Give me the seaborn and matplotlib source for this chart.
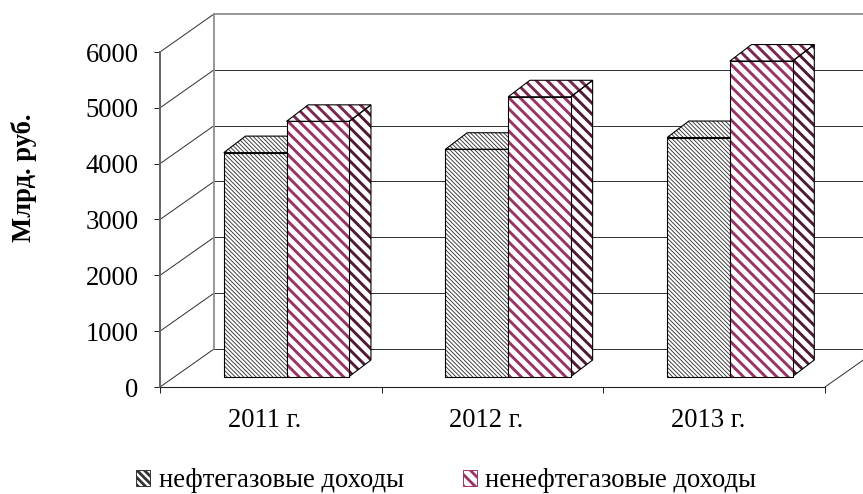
import matplotlib
matplotlib.use("Agg")
import matplotlib.pyplot as plt
import numpy as np
import pandas as pd
import seaborn as sns
from matplotlib.lines import Line2D
from matplotlib.patches import Patch, Polygon, Rectangle
from matplotlib.transforms import Affine2D, IdentityTransform

years = ["2011 г.", "2012 г.", "2013 г."]
oil_gas = [4010, 4070, 4280]
non_oil_gas = [4570, 5010, 5650]
series_names = ["нефтегазовые доходы", "ненефтегазовые доходы"]
y_ticks = [0, 1000, 2000, 3000, 4000, 5000, 6000]

sns.set_theme(style="white")
plt.rcParams["font.family"] = ["Liberation Serif", "DejaVu Serif"]

FONT = 9.6
PT = 0.36  # one output pixel, in points, at 200 dpi

frame = pd.DataFrame({
    "year": years * 2,
    "value": oil_gas + non_oil_gas,
    "series": [series_names[0]] * 3 + [series_names[1]] * 3,
})

fig = plt.figure(figsize=(4.315, 2.47), dpi=200, facecolor="white")
ax = fig.add_axes([160 / 863, 107 / 494, 665 / 863, 335 / 494])
sns.barplot(data=frame, x="year", y="value", hue="series", ax=ax,
            width=0.566, gap=0, saturation=1, legend=False,
            palette=["white", "white"])
ax.set_xlim(-0.5, 2.5)
ax.set_ylim(0, 6000)
ax.set_facecolor("none")
ax.set_xlabel("")
ax.set_ylabel("Млрд. руб.", fontsize=FONT, fontweight="bold", color="black")
ax.yaxis.set_label_coords(-0.185, 0.624)
ax.set_yticks(y_ticks)
ax.set_xticks([-0.5, 0.5, 1.5, 2.5], minor=False, labels=["", "", "", ""])
# Year captions sit slightly left of the category centres
ax.set_xticks([-0.027, 0.973, 1.973], labels=years, minor=True)
ax.tick_params(axis="both", which="major", length=2.16, width=PT, color="#222222",
               labelsize=FONT, pad=5.6, left=True, bottom=True, labelcolor="black")
ax.tick_params(axis="x", which="minor", length=0, labelsize=FONT, pad=7.5, labelcolor="black")
for side in ("top", "right"):
    ax.spines[side].set_visible(False)
ax.spines["left"].set(color="#666666", linewidth=2 * PT)
ax.spines["bottom"].set(color="#222222", linewidth=1.1 * PT)

# Depth of the pseudo-3D box and of the bars, in output pixels
WALL = np.array([54.0, 38.0])
BAR_SHIFT = np.array([15.7, 10.5])
BAR_DEPTH = np.array([21.7, 16.5])


def px(x, y, shift=(0.0, 0.0)):
    return ax.transData.transform((x, y)) + np.asarray(shift)


def screen_line(a, b, color, width=1.0):
    ax.add_line(Line2D([a[0], b[0]], [a[1], b[1]], color=color, lw=width * PT,
                       transform=IdentityTransform(), clip_on=False, zorder=1))


def hatched_face(points, hatch, color, width, zorder):
    face = Polygon(points, closed=True, facecolor="white", edgecolor=color, lw=0,
                   hatch=hatch, transform=IdentityTransform(), clip_on=False, zorder=zorder)
    face._hatch_linewidth = width
    ax.add_patch(face)
    ax.add_patch(Polygon(points, closed=True, fill=False, edgecolor="black", lw=1.1 * PT,
                         transform=IdentityTransform(), clip_on=False, zorder=zorder + 0.01))


# Back wall, side wall and floor
x_left, x_right = ax.get_xlim()
for v in y_ticks:
    top = v == y_ticks[-1]
    screen_line(px(x_left, v, WALL), px(x_right + 0.3, v, WALL),
                "#8f8f8f" if top else "#333333", 1.8 if top else 1.0)
    screen_line(px(x_left, v), px(x_left, v, WALL), "#333333")
screen_line(px(x_left, 0, WALL), px(x_left, 6000, WALL), "#8f8f8f", 1.8)
screen_line(px(x_right, 0), px(x_right, 0, WALL), "#333333")

styles = [
    {"hatch": "\\" * 16, "front": "#333333", "top": "#333333", "side": "#333333", "lw": 0.32},
    {"hatch": "\\" * 6, "front": "#993366", "top": "#7a2850", "side": "#4f1a35", "lw": 1.05},
]
to_bar_plane = Affine2D().translate(*BAR_SHIFT)
for n, (container, style) in enumerate(zip(ax.containers, styles)):
    base_z = 3 + n
    for bar in container:
        x0, w, h = bar.get_x(), bar.get_width(), bar.get_height()
        fl = px(x0, h, BAR_SHIFT)
        fr = px(x0 + w, h, BAR_SHIFT)
        br = px(x0 + w, 0, BAR_SHIFT)
        hatched_face([fl, fr, fr + BAR_DEPTH, fl + BAR_DEPTH],
                     style["hatch"], style["top"], style["lw"], base_z)
        hatched_face([fr, br, br + BAR_DEPTH, fr + BAR_DEPTH],
                     style["hatch"], style["side"], style["lw"], base_z)
        bar.set(facecolor="white", edgecolor=style["front"], linewidth=0,
                hatch=style["hatch"], zorder=base_z + 0.5)
        bar._hatch_linewidth = style["lw"]
        bar.set_transform(ax.transData + to_bar_plane)
        ax.add_patch(Rectangle((x0, 0), w, h, fill=False, edgecolor="black", lw=1.1 * PT,
                               transform=ax.transData + to_bar_plane, zorder=base_z + 0.6))

handles = []
for style, hatch, width in zip(styles, ["\\" * 9, "\\" * 6], [0.24, 0.8]):
    handle = Patch(facecolor="white", edgecolor=style["front"], hatch=hatch, lw=0.35)
    handle._hatch_linewidth = width
    handles.append(handle)
fig.legend(handles, series_names, loc="lower left", bbox_to_anchor=(133.5 / 863, -2 / 494),
           ncols=2, frameon=False, fontsize=FONT, handlelength=0.525, handleheight=0.525,
           handletextpad=0.33, columnspacing=2.2, borderpad=0.1, borderaxespad=0,
           labelcolor="black")

fig.savefig("out.png", dpi=200, facecolor="white")
